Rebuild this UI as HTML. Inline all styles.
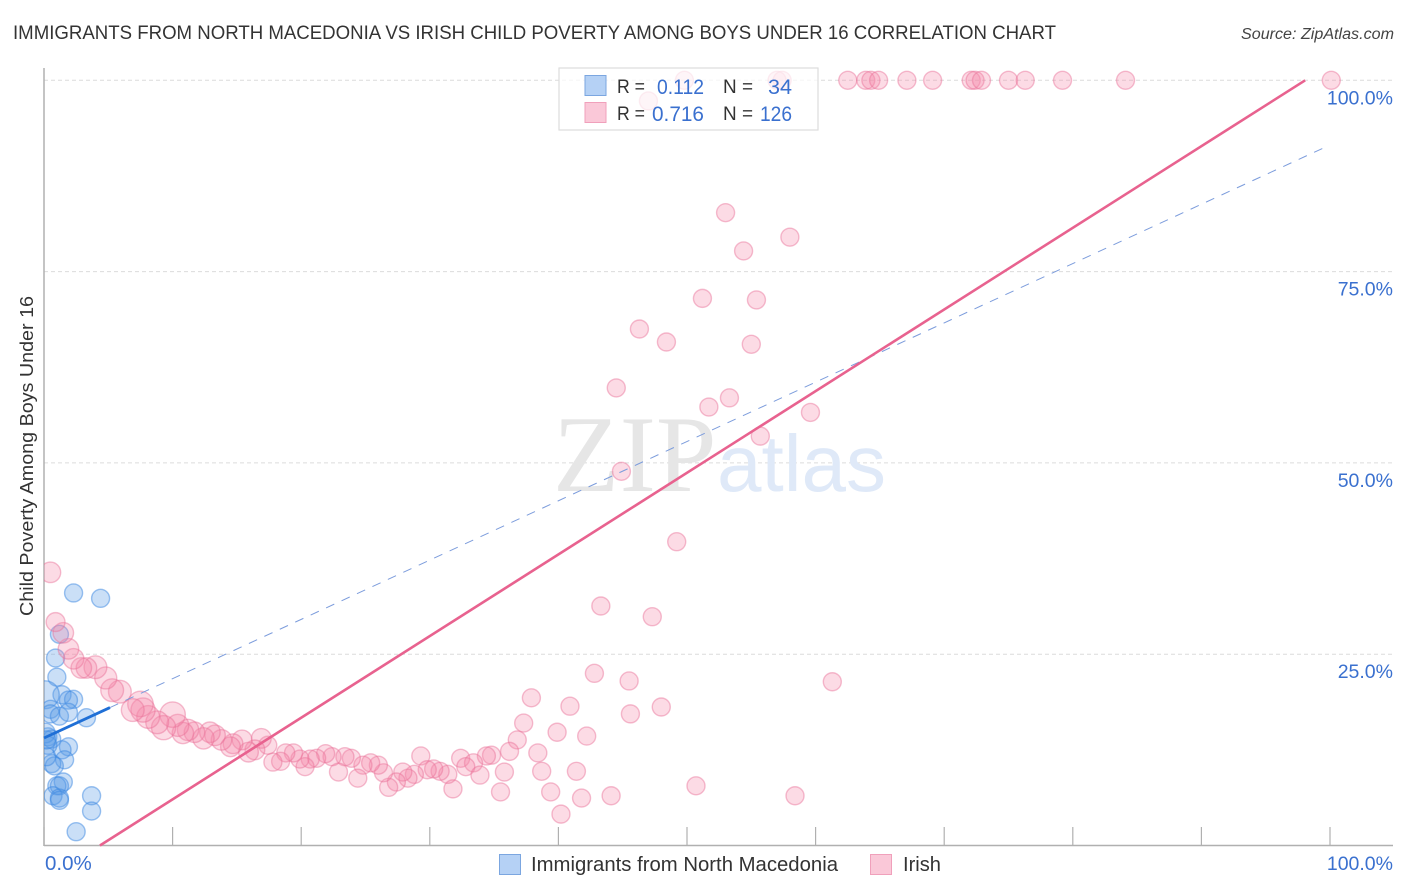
<!DOCTYPE html>
<html>
<head>
<meta charset="utf-8">
<style>
html,body{margin:0;padding:0;background:#fff;width:1406px;height:892px;overflow:hidden}
svg{display:block;font-family:"Liberation Sans",sans-serif}
</style>
</head>
<body>
<svg id="chart" width="1406" height="892" viewBox="0 0 1406 892" xmlns="http://www.w3.org/2000/svg">
  <defs><clipPath id="plot-clip"><rect x="44" y="60" width="1362" height="786"/></clipPath></defs>
  <text x="13" y="39" font-size="19.5" fill="#333" textLength="1043" lengthAdjust="spacingAndGlyphs">IMMIGRANTS FROM NORTH MACEDONIA VS IRISH CHILD POVERTY AMONG BOYS UNDER 16 CORRELATION CHART</text>
  <text x="1241" y="39" font-size="15.5" font-style="italic" fill="#444" textLength="153" lengthAdjust="spacingAndGlyphs">Source: ZipAtlas.com</text>
  <g id="grid"></g>
  <g>
    <text x="553" y="491" font-family="'Liberation Serif',serif" font-size="109" fill="#e6e6e6">ZIP</text>
    <text x="717" y="491" font-size="80" fill="#dfe9f8">atlas</text>
  </g>
  <g id="axes"></g>
  <g id="points-blue" clip-path="url(#plot-clip)"></g>
  <g id="points-pink" clip-path="url(#plot-clip)"></g>
  <g id="trends"></g>
  <text transform="translate(33,456) rotate(-90)" font-size="18.5" fill="#333" text-anchor="middle" textLength="320" lengthAdjust="spacingAndGlyphs">Child Poverty Among Boys Under 16</text>
  <g id="tick-labels"></g>
  <g>
    <rect x="559" y="68" width="259" height="62" fill="#fff" fill-opacity="0.72" stroke="#ddd" stroke-width="1.2"/>
    <rect x="585" y="75.5" width="21" height="20" fill="#b5d1f5" stroke="#7ba6e0"/>
    <rect x="585" y="102.5" width="21" height="20" fill="#fac8d8" stroke="#f0a0bb"/>
    <g font-size="19.5" fill="#333">
      <text x="617" y="93" textLength="28" lengthAdjust="spacingAndGlyphs">R =</text>
      <text x="617" y="120" textLength="28" lengthAdjust="spacingAndGlyphs">R =</text>
      <text x="723" y="93" textLength="30" lengthAdjust="spacingAndGlyphs">N =</text>
      <text x="723" y="120" textLength="30" lengthAdjust="spacingAndGlyphs">N =</text>
    </g>
    <g font-size="21" fill="#3a70cf">
      <text x="657" y="94" textLength="47" lengthAdjust="spacingAndGlyphs">0.112</text>
      <text x="652" y="121" textLength="52" lengthAdjust="spacingAndGlyphs">0.716</text>
      <text x="768" y="94" textLength="24" lengthAdjust="spacingAndGlyphs">34</text>
      <text x="760" y="121" textLength="32" lengthAdjust="spacingAndGlyphs">126</text>
    </g>
  </g>
  <g>
    <rect x="499.5" y="854.5" width="21" height="20" fill="#b5d1f5" stroke="#7ba6e0"/>
    <text x="531" y="871" font-size="20" fill="#333" textLength="307" lengthAdjust="spacingAndGlyphs">Immigrants from North Macedonia</text>
    <rect x="870.5" y="854.5" width="21" height="20" fill="#fac8d8" stroke="#f0a0bb"/>
    <text x="903" y="871" font-size="20" fill="#333" textLength="38" lengthAdjust="spacingAndGlyphs">Irish</text>
  </g>
</svg>
<script>
const xTickValues = [0,10,20,30,40,50,60,70,80,90,100];
const yGridValues = [25,50,75,100];
const xTickLabels = ["0.0%","100.0%"];
const yTickLabels = ["25.0%","50.0%","75.0%","100.0%"];

const immigrantsX = [2.3,4.4,1.2,0.9,1.0,1.4,0.1,2.3,1.9,0.5,0.5,1.2,1.9,3.3,0.3,0.6,0.1,1.9,1.4,1.6,0.6,0.8,1.5,1.0,1.2,0.7,1.2,1.2,3.7,3.7,2.5,0.3,0.2,0.2];
const immigrantsY = [33.0,32.3,27.6,24.5,22.0,19.7,19.7,19.1,19.0,17.8,17.2,16.9,17.4,16.7,14.2,13.9,14.7,12.9,12.5,11.2,10.7,10.4,8.3,7.8,7.8,6.5,6.2,5.9,6.5,4.5,1.8,13.1,11.6,13.8];
const immigrantsWeight = [1,1,1,1,1,1,2.4,1,1,1,1,1,1,1,1,1,1.2,1,1,1,1,1,1,1,1,1,1,1,1,1,1,1,1,1];

const irishX = [49.8,57.0,57.4,62.5,63.9,64.3,64.9,67.1,69.1,72.1,72.4,72.9,75.0,76.3,79.2,84.1,100.1,47.0,
  53.0,54.4,58.0,51.2,55.4,46.3,48.4,55.0,44.5,51.7,53.3,59.6,55.7,44.9,49.2,43.3,47.3,61.3,42.8,45.5,37.9,40.9,48.0,45.6,37.3,39.9,42.2,36.8,36.2,38.4,34.8,34.4,32.4,33.4,32.8,33.9,35.8,38.7,41.4,31.8,35.5,39.4,41.8,44.1,50.7,58.4,40.2,
  29.3,31.4,30.8,30.3,29.8,28.8,28.3,27.9,27.4,26.8,26.4,26.0,25.4,24.8,24.4,23.9,23.4,22.9,22.4,21.9,21.2,20.7,20.3,19.9,19.4,18.8,18.4,17.8,17.4,16.9,16.4,15.9,15.4,14.7,14.5,13.8,13.3,12.9,12.4,11.7,11.2,10.8,10.4,10.0,9.3,8.8,8.1,7.7,7.5,6.9,5.9,5.3,4.8,4.0,3.3,2.9,2.3,1.9,1.5,0.9,0.5];
const irishY = [100,100,100,100,100,100,100,100,100,100,100,100,100,100,100,100,100,97.3,
  82.7,77.7,79.5,71.5,71.3,67.5,65.8,65.5,59.8,57.3,58.5,56.6,53.5,48.9,39.7,31.3,29.9,21.4,22.5,21.5,19.3,18.2,18.1,17.2,16.0,14.8,14.3,13.8,12.3,12.1,11.8,11.7,11.4,10.8,10.3,9.2,9.6,9.7,9.7,7.4,7.0,7.0,6.2,6.5,7.8,6.5,4.1,
  11.7,9.3,9.7,10.0,9.9,9.3,8.8,9.6,8.3,7.6,9.5,10.5,10.8,10.5,8.8,11.4,11.6,9.6,11.6,12.0,11.4,11.3,10.3,11.3,12.1,12.1,11.0,10.9,13.1,14.0,12.5,12.2,13.8,13.3,12.9,13.8,14.4,14.8,14.0,14.8,15.1,14.7,15.7,17.1,15.4,16.1,16.8,17.7,18.5,17.7,20.1,20.3,21.9,23.3,23.2,23.2,24.4,25.7,27.8,29.2,35.7];
const irishWeight = [1,1,1,1,1,1,1,1,1,1,1,1,1,1,1,1,1,1,
  1,1,1,1,1,1,1,1,1,1,1,1,1,1,1,1,1,1,1,1,1,1,1,1,1,1,1,1,1,1,1,1,1,1,1,1,1,1,1,1,1,1,1,1,1,1,1,
  1,1,1,1,1,1,1,1,1,1,1,1,1,1,1,1,1,1,1,1,1,1,1,1,1,1,1,1,1,
  1.2,1.2,1.2,1.2,1.2,1.2,1.3,1.3,1.3,1.4,1.3,1.4,1.4,1.5,2,1.8,1.6,1.6,1.8,2,1.6,1.6,1.6,1.5,1.6,1.3,1.3,1.3,1.3,1.3,1.1,1.3];

const immigrantsTrend = {intercept:14.05, slope:0.775, solidEnd:5.13, dashEnd:99.7};
const irishTrend = {intercept:-4.64, slope:1.067};

const NS = 'http://www.w3.org/2000/svg';
const xScale = v => 44 + v * 12.86;
const yScale = v => 845.5 - v * 7.652;
const rScale = w => 9 * Math.sqrt(w);
function make(parent, tag, attrs, text) {
  const el = document.createElementNS(NS, tag);
  for (const k in attrs) el.setAttribute(k, attrs[k]);
  if (text !== undefined) el.textContent = text;
  document.getElementById(parent).appendChild(el);
  return el;
}

yGridValues.forEach((v, i) => {
  const g = make('grid', 'line', {x1:44, x2:1393, y1:yScale(v), y2:yScale(v), stroke:'#dcdcdc', 'stroke-width':1, 'stroke-dasharray':'4 3'});
  
  
  const t = make('tick-labels', 'text', {x:1393, y:yScale(v) + 24, 'font-size':19.5, fill:'#3a70cf', 'text-anchor':'end'}, yTickLabels[i]);
  
  
});
const xLeft = make('tick-labels', 'text', {x:45, y:870, 'font-size':20.5, fill:'#3a70cf'}, xTickLabels[0]);


const xRight = make('tick-labels', 'text', {x:1393, y:870, 'font-size':19.5, fill:'#3a70cf', 'text-anchor':'end'}, xTickLabels[1]);



const yAxis = make('axes', 'line', {x1:44, x2:44, y1:68, y2:846, stroke:'#b0b0b0', 'stroke-width':1.5});


const xAxis = make('axes', 'line', {x1:44, x2:1393, y1:845.5, y2:845.5, stroke:'#b0b0b0', 'stroke-width':1.5});


xTickValues.forEach(v => {
  const tick = make('axes', 'line', {x1:xScale(v), x2:xScale(v), y1:827, y2:846, stroke:'#b0b0b0', 'stroke-width':1.2});
  
  
});

immigrantsX.forEach((v, i) => {
  const c = make('points-blue', 'circle', {cx:xScale(v), cy:yScale(immigrantsY[i]), r:rScale(immigrantsWeight[i]), fill:'rgba(90,155,230,0.32)', stroke:'rgba(60,135,225,0.5)', 'stroke-width':1.4});
  
  
});
irishX.forEach((v, i) => {
  const c = make('points-pink', 'circle', {cx:xScale(v), cy:yScale(irishY[i]), r:rScale(irishWeight[i]), fill:'rgba(245,135,170,0.3)', stroke:'rgba(232,110,150,0.45)', 'stroke-width':1.4});
  
  
});

const blueAt = x => immigrantsTrend.intercept + immigrantsTrend.slope * x;
const irishAt = x => irishTrend.intercept + irishTrend.slope * x;
const dashLine = make('trends', 'line', {x1:xScale(immigrantsTrend.solidEnd), y1:yScale(blueAt(immigrantsTrend.solidEnd)), x2:xScale(immigrantsTrend.dashEnd), y2:yScale(blueAt(immigrantsTrend.dashEnd)), stroke:'#7c9cdc', 'stroke-width':1, 'stroke-dasharray':'9 8'});


const solidLine = make('trends', 'line', {x1:xScale(0), y1:yScale(blueAt(0)), x2:xScale(immigrantsTrend.solidEnd), y2:yScale(blueAt(immigrantsTrend.solidEnd)), stroke:'#1f6fd6', 'stroke-width':2.8});


const xAtZero = -irishTrend.intercept / irishTrend.slope;
const xAtHundred = (100 - irishTrend.intercept) / irishTrend.slope;
const pinkLine = make('trends', 'line', {x1:xScale(xAtZero), y1:yScale(irishAt(xAtZero)), x2:xScale(xAtHundred), y2:yScale(irishAt(xAtHundred)), stroke:'#e8628f', 'stroke-width':2.6});


</script>
</body>
</html>
